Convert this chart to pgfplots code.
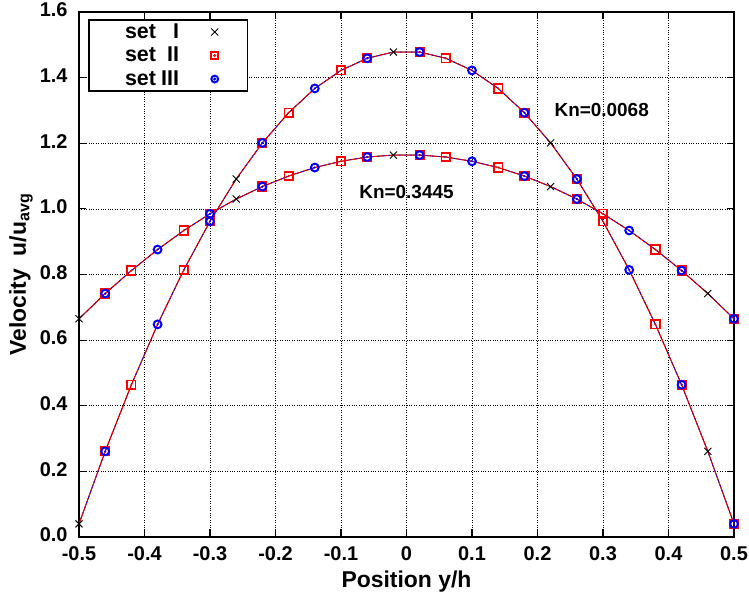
\documentclass[border=0pt]{standalone}
\usepackage{pgfplots}
\pgfplotsset{compat=1.18}
\usepackage{pgfplotstable}
\usepackage{fontspec}
\setmainfont{Liberation Sans}

\pgfplotstableread{
y     A      B
-0.50 0.040  0.665
-0.46 0.261  0.742
-0.42 0.464  0.812
-0.38 0.648  0.876
-0.34 0.814  0.934
-0.30 0.962  0.985
-0.26 1.091  1.030
-0.22 1.201  1.068
-0.18 1.293  1.100
-0.14 1.367  1.126
-0.10 1.422  1.145
-0.06 1.459  1.158
-0.02 1.478  1.164
0.02  1.478  1.164
0.06  1.459  1.158
0.10  1.422  1.145
0.14  1.367  1.126
0.18  1.293  1.100
0.22  1.201  1.068
0.26  1.091  1.030
0.30  0.962  0.985
0.34  0.814  0.934
0.38  0.648  0.876
0.42  0.464  0.812
0.46  0.261  0.742
0.50  0.040  0.665
}\data

\pgfplotsset{
  setI/.style={black, line width=0.8pt, mark=x, mark size=5bp,
    mark options={solid, line width=0.9pt}, mark indices={1,7,13,19,25}, forget plot},
  setII/.style={red, line width=1pt, mark=square, mark size=4.2bp,
    mark options={solid, line width=1.8pt},
    mark indices={2,3,5,6,8,9,11,12,14,15,17,18,20,21,23,24,26}, forget plot},
  setIIdot/.style={red, only marks, mark=*, mark size=0.8bp,
    mark indices={2,3,5,6,8,9,11,12,14,15,17,18,20,21,23,24,26}, forget plot},
  setIII/.style={blue, line width=0.6pt, dash pattern=on 2bp off 3.5bp, mark=o, mark size=3.9bp,
    mark options={solid, line width=2pt},
    mark indices={2,4,6,8,10,12,14,16,18,20,22,24,26}, forget plot},
  setIIIdot/.style={blue, only marks, mark=*, mark size=0.8bp,
    mark indices={2,4,6,8,10,12,14,16,18,20,22,24,26}, forget plot},
}

\begin{document}
\begin{tikzpicture}
\begin{axis}[
  scale only axis,
  width=655bp, height=525bp,
  xmin=-0.5, xmax=0.5, ymin=0, ymax=1.6,
  xtick={-0.5,-0.4,-0.3,-0.2,-0.1,0,0.1,0.2,0.3,0.4,0.5},
  xticklabels={-0.5,-0.4,-0.3,-0.2,-0.1,0,0.1,0.2,0.3,0.4,0.5},
  ytick={0,0.2,0.4,0.6,0.8,1.0,1.2,1.4,1.6},
  yticklabels={0.0,0.2,0.4,0.6,0.8,1.0,1.2,1.4,1.6},
  tick label style={font=\fontsize{20}{23}\selectfont\bfseries, inner sep=0pt},
  xticklabel style={anchor=base, yshift=-23.3bp},
  yticklabel style={anchor=east, xshift=-11.3bp, yshift=2bp},
  tick align=inside,
  major tick length=7.5bp,
  every tick/.style={black, line width=1.2pt},
  axis line style={line width=2.4pt},
  grid=major,
  major grid style={black, dotted, line width=0.7pt},
  xlabel={Position y/h},
  ylabel={Velocity\ \ u/u\textsubscript{avg}},
  label style={font=\fontsize{23}{26}\selectfont\bfseries},
  xlabel style={at={(axis description cs:0.5,0)}, anchor=base, yshift=-50bp},
  ylabel style={at={(axis description cs:-0.0885,0.5)}, anchor=center},
  legend style={at={(0.0144,0.9859)}, anchor=north west, draw=black, line width=1.3pt,
    fill=white, inner xsep=8bp, inner ysep=1bp,
    font=\fontsize{21.5}{24}\selectfont\bfseries,
    nodes={inner sep=1bp, text height=16bp, text depth=4bp},
    row sep=1.5bp},
  legend plot pos=right,
  legend cell align=right,
]
\addplot[setI] table[x=y, y=A]{\data};
\addplot[setI] table[x=y, y=B]{\data};
\addplot[setII] table[x=y, y=A]{\data};
\addplot[setII] table[x=y, y=B]{\data};
\addplot[setIIdot] table[x=y, y=A]{\data};
\addplot[setIIdot] table[x=y, y=B]{\data};
\addplot[setIII] table[x=y, y=A]{\data};
\addplot[setIII] table[x=y, y=B]{\data};
\addplot[setIIIdot] table[x=y, y=A]{\data};
\addplot[setIIIdot] table[x=y, y=B]{\data};

\addlegendimage{legend image code/.code={%
  \path (0bp,-5bp) (58bp,5bp);
  \draw[black, line width=0.9pt] plot[mark=x, mark size=5bp] coordinates {(34bp,0bp)};}}
\addlegendentry{\hspace*{27bp}\makebox[54bp]{set\hfill I}}
\addlegendimage{legend image code/.code={%
  \path (0bp,-5bp) (58bp,5bp);
  \draw[red, line width=1.8pt] plot[mark=square, mark size=3.4bp] coordinates {(34bp,0bp)};
  \fill[red] (34bp,0bp) circle[radius=0.8bp];}}
\addlegendentry{\hspace*{27bp}\makebox[54bp]{set\hfill II}}
\addlegendimage{legend image code/.code={%
  \path (0bp,-5bp) (58bp,5bp);
  \draw[blue, line width=2pt] plot[mark=o, mark size=3.4bp] coordinates {(34bp,0bp)};
  \fill[blue] (34bp,0bp) circle[radius=0.8bp];}}
\addlegendentry{\hspace*{27bp}\makebox[54bp]{set\hfill III}}

\node[font=\fontsize{19}{22}\selectfont\bfseries] at (axis cs:0.298,1.30) {Kn=0.0068};
\node[font=\fontsize{19}{22}\selectfont\bfseries] at (axis cs:0.0,1.051) {Kn=0.3445};

\coordinate (sw) at (rel axis cs:0,0);
\coordinate (ne) at (rel axis cs:1,1);
\end{axis}
\pgfresetboundingbox
\path[use as bounding box] ([shift={(-79bp,-59bp)}]sw) rectangle ([shift={(15bp,12bp)}]ne);
\end{tikzpicture}
\end{document}
